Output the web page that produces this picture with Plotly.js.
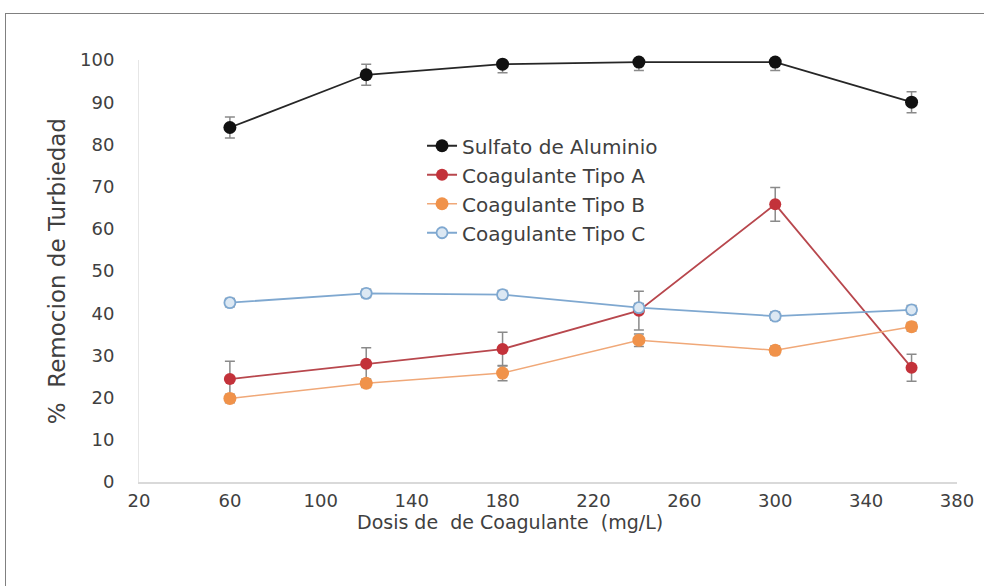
<!DOCTYPE html>
<html>
<head>
<meta charset="utf-8">
<script src="https://cdn.plot.ly/plotly-3.0.1.min.js"></script>
<style>
html,body{margin:0;padding:0;background:#fff;}
#chart{width:984px;height:586px;position:relative;}
#frame{position:absolute;left:5px;top:13px;width:990px;height:600px;border:1.5px solid #808080;box-sizing:border-box;pointer-events:none;}
</style>
</head>
<body>
<div id="chart"></div>
<div id="frame"></div>
<script>
const dosis = [60, 120, 180, 240, 300, 360];
const sulfato = [84, 96.5, 99, 99.5, 99.5, 90];
const sulfatoErr = [2.5, 2.5, 2, 2, 2, 2.5];
const tipoA = [24.4, 28, 31.5, 40.6, 65.8, 27.1];
const tipoAErr = [4.2, 3.8, 4, 4.6, 4, 3.2];
const tipoB = [19.8, 23.4, 25.8, 33.6, 31.2, 36.8];
const tipoBErr = [1, 1, 1.8, 1.5, 1, 1];
const tipoC = [42.5, 44.7, 44.4, 41.3, 39.3, 40.8];
const tipoCErr = [1, 1, 1, 1, 1, 1];
const names = ["Sulfato de Aluminio", "Coagulante Tipo A", "Coagulante Tipo B", "Coagulante Tipo C"];
const xTicks = [20, 60, 100, 140, 180, 220, 260, 300, 340, 380];
const yTicks = [0, 10, 20, 30, 40, 50, 60, 70, 80, 90, 100];
const xTitle = 'Dosis de\u00A0\u00A0de Coagulante\u00A0\u00A0(mg/L)';
const yTitle = '%\u00A0\u00A0Remocion de Turbiedad';

function errBar(arr){
  return {type:'data', array:arr, visible:true, color:'#8a8a8a', thickness:1.5, width:5};
}
const traces = [
  {x:dosis, y:sulfato, name:names[0], legendgroup:'g1', mode:'lines+markers', cliponaxis:false,
   line:{color:'#262626', width:1.8}, marker:{color:'#111', size:13}, error_y:errBar(sulfatoErr)},
  {x:dosis, y:tipoA, name:names[1], legendgroup:'g2', mode:'lines+markers', cliponaxis:false,
   line:{color:'#b8474d', width:1.8}, marker:{color:'#c3323a', size:12}, error_y:errBar(tipoAErr)},
  {x:dosis, y:tipoB, name:names[2], legendgroup:'g3', mode:'lines+markers', cliponaxis:false,
   line:{color:'#f0a878', width:1.5}, marker:{color:'#f0924a', size:13}, error_y:errBar(tipoBErr)},
  {x:dosis, y:tipoC, name:names[3], legendgroup:'g4', mode:'lines+markers', cliponaxis:false,
   line:{color:'#7fa8d0', width:1.8}, marker:{color:'#dce8f3', size:11, line:{color:'#7fa8d0', width:1.8}}, error_y:errBar(tipoCErr)}
];
const layout = {
  width:984, height:586,
  margin:{l:139, r:27, t:60, b:104},
  paper_bgcolor:'#ffffff', plot_bgcolor:'#ffffff',
  font:{family:'DejaVu Sans, Verdana, sans-serif', size:18, color:'#404040'},
  showlegend:true,
  legend:{x:0.346, y:0.843, xanchor:'left', yanchor:'top', bgcolor:'rgba(0,0,0,0)',
    font:{size:20, color:'#404040'}, tracegroupgap:4.5, traceorder:'normal'},
  xaxis:{range:[20,380], tickvals:xTicks, ticktext:xTicks.map(String), showgrid:false, zeroline:false,
    showline:true, linecolor:'#d9d9d9', linewidth:1.5, ticks:'', ticklabelstandoff:2,
    tickfont:{size:18, color:'#404040'}},
  yaxis:{range:[0,100], tickvals:yTicks, ticktext:yTicks.map(String), showgrid:false, zeroline:false,
    showline:true, linecolor:'#e6e6e6', linewidth:1, ticks:'', ticklabelstandoff:20,
    tickfont:{size:18, color:'#404040'}},
  annotations:[
    {text:xTitle, xref:'paper', yref:'paper', x:0.4535, y:-0.095, xanchor:'center', yanchor:'middle',
     showarrow:false, font:{size:19, color:'#404040'}},
    {text:yTitle, xref:'paper', yref:'paper', x:-0.1, y:0.5, xanchor:'center', yanchor:'middle',
     textangle:-90, showarrow:false, font:{size:23, color:'#404040'}}
  ]
};
Plotly.newPlot('chart', traces, layout, {staticPlot:true, displayModeBar:false});
</script>
</body>
</html>
